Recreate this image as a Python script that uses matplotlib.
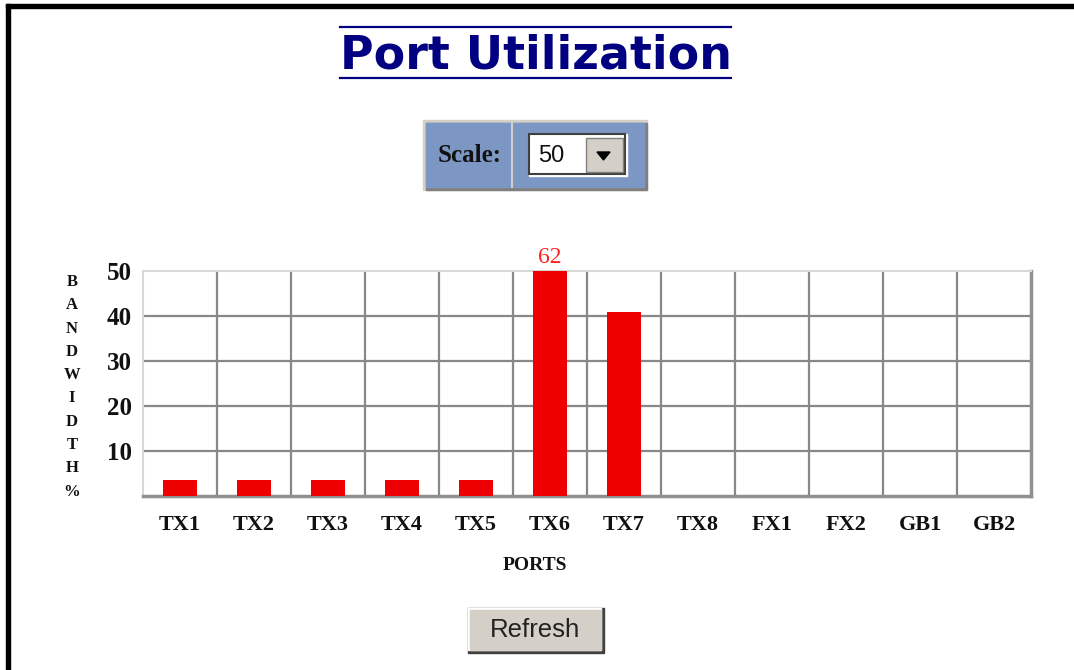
import numpy as np
import matplotlib.pyplot as plt
from matplotlib.patches import Rectangle, Polygon

# Datos del gráfico.
ports = ['TX1', 'TX2', 'TX3', 'TX4', 'TX5', 'TX6', 'TX7', 'TX8', 'FX1', 'FX2', 'GB1', 'GB2']
bandwidth = [3.5, 3.5, 3.5, 3.5, 3.5, 62, 41, 0, 0, 0, 0, 0]
scale = 50
y_ticks = [10, 20, 30, 40, 50]

W, H = 1074, 670
fig = plt.figure(figsize=(W / 100, H / 100), dpi=100)

# Capa de fondo en coordenadas de píxel (marco, título, controles).
bg = fig.add_axes([0, 0, 1, 1])
bg.set_xlim(0, W)
bg.set_ylim(H, 0)
bg.axis('off')

# Marco negro.
bg.add_patch(Rectangle((6, 4), 4, H, color='black'))
bg.add_patch(Rectangle((6, 4), W, 4, color='black'))

# Título.
navy = '#000080'
bg.text(536, 56, 'Port Utilization', ha='center', va='center',
        fontsize=33, fontweight='bold', color=navy, family='DejaVu Sans')
bg.plot([340, 731], [27, 27], color=navy, lw=1.6)
bg.plot([340, 731], [78, 78], color=navy, lw=1.6)

# Caja de escala.
bg.add_patch(Rectangle((423, 120), 224, 70, color='#D4D0C8'))
bg.add_patch(Rectangle((426, 123), 221, 67, color='#808080'))
bg.add_patch(Rectangle((426, 123), 218, 64, color='#7D97C4'))
bg.plot([512, 512], [123, 187], color='#D4D0C8', lw=1.5)
bg.text(470, 156, 'Scale:', ha='center', va='center', fontsize=18,
        fontweight='bold', family='Liberation Serif', color='#111111')
bg.add_patch(Rectangle((529, 134), 98, 42, color='white'))
bg.add_patch(Rectangle((529, 134), 96, 40, fill=False, ec='#404040', lw=1.5))
bg.text(538, 156, str(scale), ha='left', va='center', fontsize=17,
        family='Liberation Sans', color='#111111')
bg.add_patch(Rectangle((586, 138), 37, 34, color='#D4D0C8', ec='#808080', lw=1))
bg.add_patch(Polygon([[597, 152], [610, 152], [603.5, 160]], color='black'))

# Botón Refresh.
bg.add_patch(Rectangle((468, 608), 136, 45, color='#404040'))
bg.add_patch(Rectangle((468, 608), 133, 42, color='white'))
bg.add_patch(Rectangle((470, 610), 131, 40, color='#D4D0C8'))
bg.text(535, 630, 'Refresh', ha='center', va='center', fontsize=18.5,
        family='Liberation Sans', color='#222222')

# Etiqueta vertical del eje Y.
for i, ch in enumerate('BANDWIDTH%'):
    bg.text(72, 282 + i * 23.3, ch, ha='center', va='center', fontsize=12,
            fontweight='bold', family='Liberation Serif', color='#111111')

bg.text(535, 566, 'PORTS', ha='center', va='center', fontsize=14,
        fontweight='bold', family='Liberation Serif', color='#111111')

# Gráfico de barras.
ax = fig.add_axes([143 / W, 1 - 496 / H, 888 / W, 225 / H])
x = np.arange(len(ports))
vals = np.array(bandwidth, dtype=float)
ax.bar(x, np.minimum(vals, scale), width=0.47, color='#EE0000', zorder=3)
for xi, v in zip(x, vals):
    if v > scale:
        ax.text(xi, scale + 0.6, f'{v:g}', ha='center', va='bottom',
                color='#FF2020', fontsize=17, family='Liberation Serif')

ax.set_xlim(-0.5, len(ports) - 0.5)
ax.set_ylim(0, scale)
ax.set_xticks(x)
ax.set_xticklabels(ports)
ax.set_yticks(y_ticks)
ax.tick_params(length=0, pad=14)
ax.tick_params(axis='y', pad=8)
for lab in ax.get_xticklabels():
    lab.set_fontsize(16)
for lab in ax.get_yticklabels():
    lab.set_fontsize(18)
for lab in ax.get_xticklabels() + ax.get_yticklabels():
    lab.set_family('Liberation Serif')
    lab.set_fontweight('bold')
    lab.set_color('#111111')

for v in y_ticks[:-1]:
    ax.axhline(v, color='#888888', lw=1.6, zorder=2)
for xv in x[:-1] + 0.5:
    ax.axvline(xv, color='#888888', lw=1.6, zorder=2)

ax.spines['top'].set_color('#D8D8D8')
ax.spines['left'].set_color('#D8D8D8')
ax.spines['bottom'].set_color('#909090')
ax.spines['right'].set_color('#909090')
ax.spines['top'].set_linewidth(1.5)
ax.spines['left'].set_linewidth(1.5)
ax.spines['bottom'].set_linewidth(2.5)
ax.spines['right'].set_linewidth(2.5)

fig.savefig('out.png', dpi=100)
